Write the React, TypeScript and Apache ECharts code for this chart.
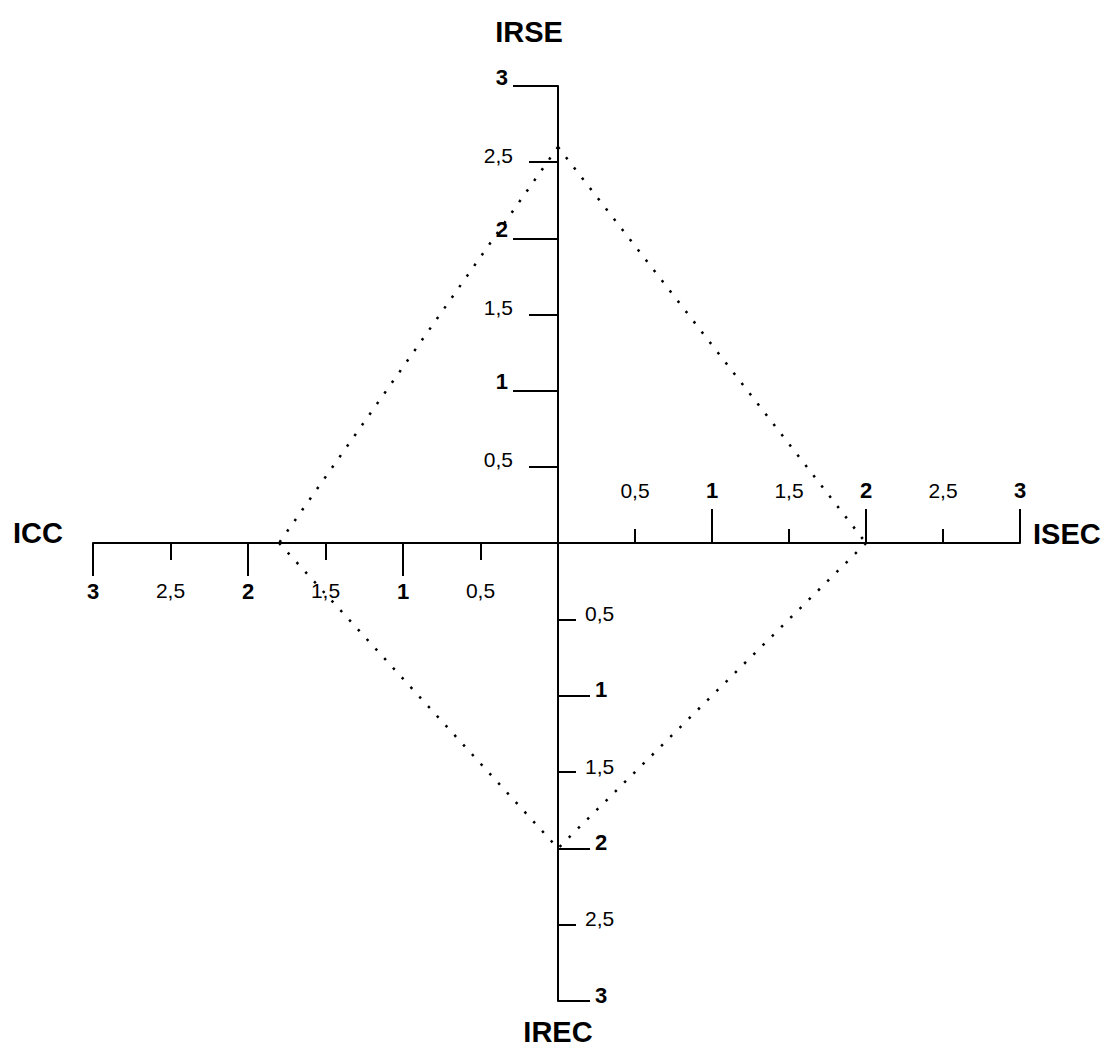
import React, { useEffect, useRef } from 'react';
import * as echarts from 'echarts';

// Scores read from the diamond (dotted polygon)
const scoreIRSE = 2.6;
const scoreISEC = 2.0;
const scoreIREC = 2.0;
const scoreICC = 1.8;

const axisNameIRSE = 'IRSE';
const axisNameISEC = 'ISEC';
const axisNameIREC = 'IREC';
const axisNameICC = 'ICC';

const tickValues = [0.5, 1, 1.5, 2, 2.5, 3];
const tickLabels = ['0,5', '1', '1,5', '2', '2,5', '3'];
const axisMin = 0;
const axisMax = 3;

const FONT = '"Liberation Sans", Arial, sans-serif';
const BLACK = '#000';

const labelFor = (v: number, major: boolean) => {
  const isInt = Math.abs(v - Math.round(v)) < 1e-9;
  if (v === 0) return '';
  if (major !== isInt) return '';
  const i = tickValues.findIndex((t) => Math.abs(t - v) < 1e-9);
  return i >= 0 ? tickLabels[i] : '';
};

type AxOpt = {
  grid: number;
  position: string;
  inverse?: boolean;
  major?: boolean;
  show?: boolean;
  line?: boolean;
  tickInside?: boolean;
  labelInside?: boolean;
  tickLen?: number;
  margin?: number;
  labelLift?: number;
  name?: string;
  nameGap?: number;
  namePadding?: number[];
  nameLift?: number;
};

const mkAxis = (o: AxOpt) => {
  const labelStyle: any = {
    show: true,
    inside: !!o.labelInside,
    margin: o.margin ?? 8,
    color: BLACK,
    fontFamily: FONT,
    fontSize: o.major ? 22 : 21,
    fontWeight: o.major ? 'bold' : 'normal',
    showMinLabel: true,
    showMaxLabel: true,
    formatter: (v: number) => labelFor(v, !!o.major),
  };
  if (o.labelLift) {
    labelStyle.verticalAlign = 'bottom';
    labelStyle.lineHeight = o.labelLift * 2;
  }
  const nameStyle: any = {
    color: BLACK,
    fontFamily: FONT,
    fontSize: 29,
    fontWeight: 'bold',
    padding: o.namePadding || [0, 0, 0, 0],
  };
  if (o.nameLift) {
    nameStyle.verticalAlign = 'bottom';
    nameStyle.lineHeight = o.nameLift * 2;
  }
  return {
    type: 'value',
    gridIndex: o.grid,
    position: o.position,
    inverse: !!o.inverse,
    min: axisMin,
    max: axisMax,
    interval: o.major ? 1 : 0.5,
    show: o.show !== false,
    name: o.name || '',
    nameLocation: 'end',
    nameGap: o.nameGap ?? 10,
    nameTextStyle: nameStyle,
    axisLine: {
      show: !!o.line,
      onZero: false,
      lineStyle: { color: BLACK, width: 2 },
    },
    axisTick: {
      show: true,
      inside: !!o.tickInside,
      length: o.tickLen ?? 10,
      lineStyle: { color: BLACK, width: 2 },
    },
    axisLabel: labelStyle,
    splitLine: { show: false },
    splitArea: { show: false },
  };
};

const dotted = { color: BLACK, width: 2.5, type: [2.5, 10.5], cap: 'butt' as const };

export default function App() {
  const ref = useRef<HTMLDivElement>(null);

  useEffect(() => {
    if (!ref.current) return;
    const chart = echarts.init(ref.current, undefined, { renderer: 'svg' });

    const cx = 558;
    const cy = 543;
    const left = 93;
    const right = 1020;
    const top = 86;
    const bottom = 1001;

    const grids = [
      // 0: NE
      { left: cx, top: top, width: right - cx, height: cy - top },
      // 1: NW
      { left: left, top: top, width: cx - left, height: cy - top },
      // 2: SE
      { left: cx, top: cy, width: right - cx, height: bottom - cy },
      // 3: SW
      { left: left, top: cy, width: cx - left, height: bottom - cy },
    ].map((g) => ({ ...g, containLabel: false, outerBoundsMode: 'none', show: false }));

    const xAxes = [
      // 0: ISEC major
      mkAxis({ grid: 0, position: 'bottom', major: true, line: true, tickInside: true, labelInside: true, tickLen: 34, margin: 42, name: axisNameISEC, nameGap: 13, nameLift: 9 }),
      // 1: ISEC minor
      mkAxis({ grid: 0, position: 'bottom', tickInside: true, labelInside: true, tickLen: 14, margin: 42 }),
      // 2: ICC major
      mkAxis({ grid: 1, position: 'bottom', inverse: true, major: true, line: true, tickLen: 33, margin: 37, name: axisNameICC, nameGap: 30, nameLift: 10 }),
      // 3: ICC minor
      mkAxis({ grid: 1, position: 'bottom', inverse: true, tickLen: 17, margin: 37 }),
      // 4: SE hidden ISEC
      mkAxis({ grid: 2, position: 'top', show: false }),
      // 5: SW hidden ICC
      mkAxis({ grid: 3, position: 'top', inverse: true, show: false }),
    ];

    const yAxes = [
      // 0: IRSE major
      mkAxis({ grid: 0, position: 'left', major: true, line: true, tickLen: 45, margin: 50, labelLift: 9, name: axisNameIRSE, nameGap: 40, namePadding: [0, 58, 0, 0] }),
      // 1: IRSE minor
      mkAxis({ grid: 0, position: 'left', tickLen: 29, margin: 45, labelLift: 7 }),
      // 2: NW hidden IRSE
      mkAxis({ grid: 1, position: 'right', show: false }),
      // 3: IREC major
      mkAxis({ grid: 2, position: 'left', inverse: true, major: true, line: true, tickInside: true, labelInside: true, tickLen: 32, margin: 37, labelLift: 6, name: axisNameIREC, nameGap: 16 }),
      // 4: IREC minor
      mkAxis({ grid: 2, position: 'left', inverse: true, tickInside: true, labelInside: true, tickLen: 18, margin: 27, labelLift: 6 }),
      // 5: SW hidden IREC
      mkAxis({ grid: 3, position: 'right', inverse: true, show: false }),
    ];

    const seg = (xi: number, yi: number, data: number[][]) => ({
      type: 'line',
      xAxisIndex: xi,
      yAxisIndex: yi,
      data,
      symbol: 'none',
      silent: true,
      lineStyle: dotted,
      z: 5,
    });

    chart.setOption({
      animation: false,
      backgroundColor: '#fff',
      grid: grids,
      xAxis: xAxes,
      yAxis: yAxes,
      series: [
        seg(0, 0, [[0, scoreIRSE], [scoreISEC, 0]]),
        seg(2, 2, [[0, scoreIRSE], [scoreICC, 0]]),
        seg(4, 3, [[scoreISEC, 0], [0, scoreIREC]]),
        seg(5, 5, [[scoreICC, 0], [0, scoreIREC]]),
      ],
    });

    return () => chart.dispose();
  }, []);

  return (
    <div
      ref={ref}
      style={{ position: 'fixed', left: 0, top: 0, width: 1107, height: 1049, background: '#fff' }}
    />
  );
}
